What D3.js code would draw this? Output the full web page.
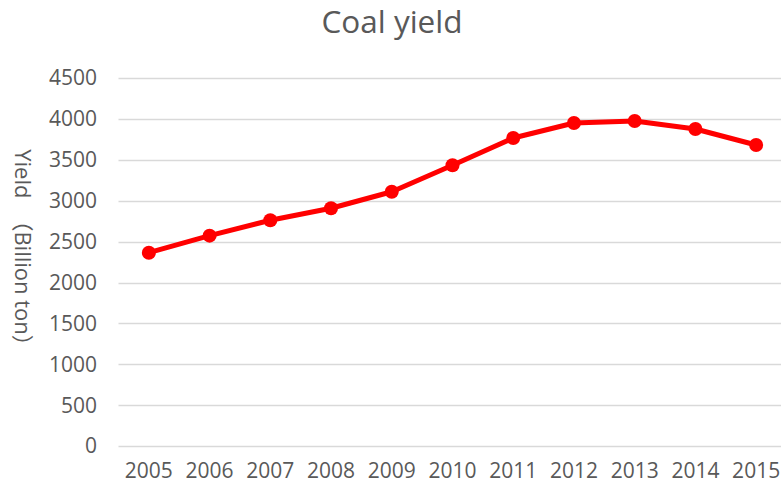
<!DOCTYPE html>
<html>
<head>
<meta charset="utf-8">
<script src="https://cdn.jsdelivr.net/npm/d3@7"></script>
<style>
  html, body { margin: 0; padding: 0; background: #fff; }
  svg { display: block; }
</style>
</head>
<body>
<svg id="chart" width="781" height="489"></svg>
<script>
// Annual coal output, 2005–2015
const years = ["2005", "2006", "2007", "2008", "2009", "2010", "2011", "2012", "2013", "2014", "2015"];
const yieldValues = [2365, 2573, 2761, 2908, 3110, 3433, 3767, 3950, 3975, 3877, 3681];
const yTicks = [0, 500, 1000, 1500, 2000, 2500, 3000, 3500, 4000, 4500];

const titleText = "Coal yield";
const yAxisTitle = "Yield\u3000（Billion ton）";

const svg = d3.select("#chart");
const margin = { left: 118.5, right: -5.5, top: 78, bottom: 42.8 };
const width = 781, height = 489;
const textColor = "#595959";
const font = "'Open Sans', 'Liberation Sans', sans-serif";
const tickSize = "21px";

const x = d3.scaleBand()
  .domain(years)
  .range([margin.left, width - margin.right])
  .padding(0);

const y = d3.scaleLinear()
  .domain([0, 4500])
  .range([height - margin.bottom, margin.top]);

// horizontal gridlines
svg.append("g")
  .selectAll("line")
  .data(yTicks)
  .join("line")
  .attr("x1", margin.left)
  .attr("x2", width)
  .attr("y1", d => Math.round(y(d)) + 0.5)
  .attr("y2", d => Math.round(y(d)) + 0.5)
  .attr("stroke", "#d9d9d9")
  .attr("stroke-width", 1.3);

// y axis labels
const yAxis = d3.axisLeft(y).tickValues(yTicks).tickFormat(d3.format("d")).tickSize(0).tickPadding(0);
const gy = svg.append("g")
  .attr("transform", `translate(97,0)`)
  .call(yAxis);
gy.select(".domain").remove();
gy.selectAll("text")
  .attr("fill", textColor)
  .style("font-family", font)
  .style("font-size", tickSize);

// x axis labels
const xAxis = d3.axisBottom(x).tickSize(0).tickPadding(0);
const gx = svg.append("g")
  .attr("transform", `translate(0,${height - margin.bottom + 17})`)
  .call(xAxis);
gx.select(".domain").remove();
gx.selectAll("text")
  .attr("fill", textColor)
  .style("font-family", font)
  .style("font-size", tickSize);

// title
svg.append("text")
  .attr("x", 392)
  .attr("y", 33)
  .attr("text-anchor", "middle")
  .attr("fill", textColor)
  .style("font-family", font)
  .style("font-size", "31.5px")
  .text(titleText);

// y axis title
svg.append("text")
  .attr("transform", "translate(15,253) rotate(90)")
  .attr("text-anchor", "middle")
  .attr("fill", textColor)
  .style("font-family", "'Open Sans', 'Noto Sans CJK SC', sans-serif")
  .style("font-size", "22px")
  .text(yAxisTitle);

const data = years.map((yr, i) => ({ year: yr, value: yieldValues[i] }));
const cx = d => x(d.year) + x.bandwidth() / 2;

// series line
svg.append("path")
  .datum(data)
  .attr("fill", "none")
  .attr("stroke", "#ff0000")
  .attr("stroke-width", 5)
  .attr("stroke-linejoin", "round")
  .attr("d", d3.line().x(cx).y(d => y(d.value)));

// markers
svg.append("g")
  .selectAll("circle")
  .data(data)
  .join("circle")
  .attr("cx", cx)
  .attr("cy", d => y(d.value))
  .attr("r", 7)
  .attr("fill", "#ff0000");
</script>
</body>
</html>
